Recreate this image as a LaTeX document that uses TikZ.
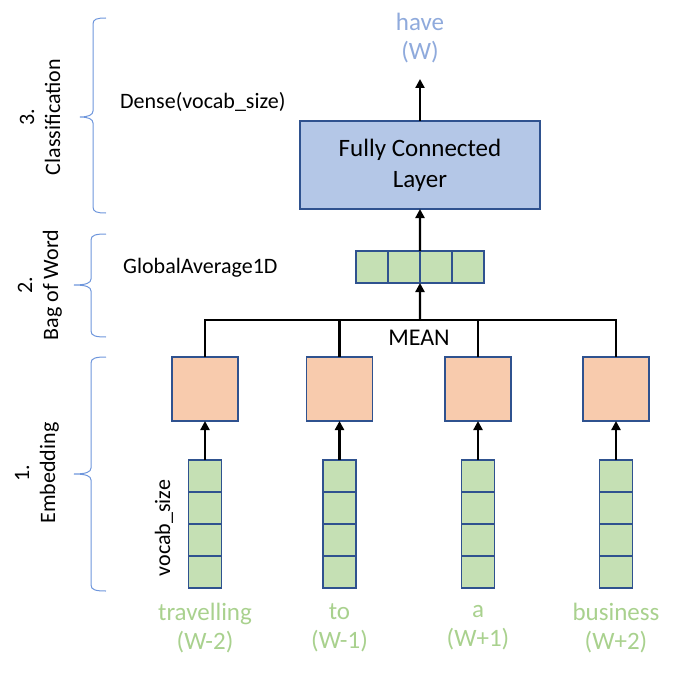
\documentclass[tikz,border=0pt]{standalone}
\usepackage{fontspec}
\setmainfont{Carlito}
\usetikzlibrary{arrows.meta}
\definecolor{fcfill}{RGB}{180,199,231}
\definecolor{boxedge}{RGB}{47,82,143}
\definecolor{orangefill}{RGB}{248,203,173}
\definecolor{greenfill}{RGB}{197,224,180}
\definecolor{wordgreen}{RGB}{169,209,142}
\definecolor{outblue}{RGB}{143,170,220}
\definecolor{bracecol}{RGB}{110,150,220}
\tikzset{
  box/.style={draw=boxedge, line width=1.4bp, inner sep=0pt, outer sep=0pt},
  fcbox/.style={box, fill=fcfill, minimum width=240bp, minimum height=88bp, align=center, font=\fontsize{25bp}{31bp}\selectfont},
  embbox/.style={box, fill=orangefill, minimum width=66bp, minimum height=64bp},
  cell/.style={box, fill=greenfill, minimum width=33bp, minimum height=32bp},
  hcell/.style={box, fill=greenfill, minimum width=32bp, minimum height=32bp},
  conn/.style={line width=2.4bp, -{Triangle[length=9bp,width=9bp]}},
  wire/.style={line width=2.4bp},
  lbl/.style={font=\fontsize{22bp}{26bp}\selectfont, inner sep=0pt},
  word/.style={font=\fontsize{25bp}{29bp}\selectfont, text=wordgreen, align=center, inner sep=0pt},
  stage/.style={font=\fontsize{22bp}{26bp}\selectfont, rotate=90, align=center, inner sep=0pt},
  bracepath/.style={draw=bracecol, line width=1bp},
}
\begin{document}
\begin{tikzpicture}[x=1bp,y=-1bp]
\useasboundingbox (0,0) rectangle (680,674);

% output label
\node[font=\fontsize{25bp}{29bp}\selectfont, text=outblue, align=center, inner sep=0pt] (have) at (420,38) {have\\(W)};
\coordinate (outtip) at (420,79);

% fully connected layer
\node[fcbox] (fc) at (420,165) {Fully Connected\\Layer};
\draw[conn] (fc.north) -- (outtip);

% bag-of-word bar
\node[hcell] (b1) at (372,267) {};
\node[hcell] (b2) at (404,267) {};
\node[hcell] (b3) at (436,267) {};
\node[hcell] (b4) at (468,267) {};
\draw[conn] (b2.north east) -- (fc.south);

% MEAN junction
\coordinate (m) at (420,320);
\node[font=\fontsize{24bp}{28bp}\selectfont, inner sep=0pt] (mean) at (419,338) {MEAN};
\draw[conn] (m) -- (b2.south east);

% embedding boxes
\foreach \i/\x in {1/205,2/339.5,3/478,4/616}{
  \node[embbox] (e\i) at (\x,389) {};
  \node[cell] (g\i a) at (\x,476) {};
  \node[cell] (g\i b) at (\x,508) {};
  \node[cell] (g\i c) at (\x,540) {};
  \node[cell] (g\i d) at (\x,572) {};
  \draw[conn] (g\i a.north) -- (e\i.south);
}
\draw[wire] (e1.north) -- (e1.north |- m) -- (e4.north |- m) -- (e4.north);
\draw[wire] (e2.north) -- (e2.north |- m);
\draw[wire] (e3.north) -- (e3.north |- m);

% words
\node[word] (w1) at (205,628) {travelling\\(W-2)};
\node[word] (w2) at (339.5,628) {to\\(W-1)};
\node[word] (w3) at (478,628) {a\\(W+1)};
\node[word] (w4) at (616,628) {business\\(W+2)};

% side labels
\node[lbl, anchor=west] (dense) at (120,102) {Dense(vocab\_size)};
\node[lbl, anchor=west] (gavg) at (123,268) {GlobalAverage1D};
\node[lbl, rotate=90] (vocab) at (164,528) {vocab\_size};

% stage labels
\node[stage] (s3) at (40,117) {3.\\Classification};
\node[stage] (s2) at (40,285) {2.\\Bag of Word};
\node[stage] (s1) at (37,473) {1.\\Embedding};

% braces
\draw[bracepath] (106,18) .. controls (97,18) and (93,19) .. (93,24) -- (93,111) .. controls (93,115) and (88,117) .. (80,117) .. controls (88,117) and (93,119) .. (93,123) -- (93,207) .. controls (93,212) and (97,213) .. (106,213);
\draw[bracepath] (106,234) .. controls (96,234) and (91,235) .. (91,240) -- (91,279) .. controls (91,283) and (86,285) .. (74,285) .. controls (86,285) and (91,287) .. (91,291) -- (91,331) .. controls (91,336) and (96,337) .. (106,337);
\draw[bracepath] (106,357) .. controls (96,357) and (91,358) .. (91,363) -- (91,468) .. controls (91,472) and (86,474) .. (74,474) .. controls (86,474) and (91,476) .. (91,480) -- (91,585) .. controls (91,590) and (96,591) .. (106,591);
\end{tikzpicture}
\end{document}
